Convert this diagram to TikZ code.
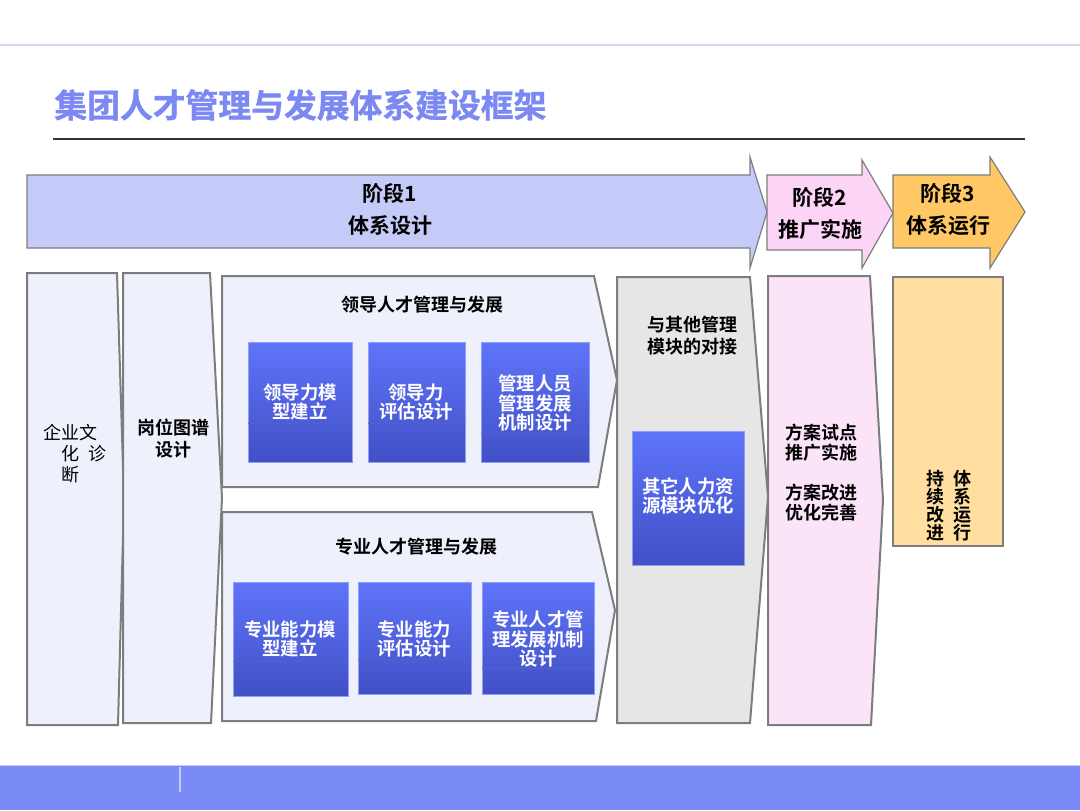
\documentclass[tikz,border=0pt]{standalone}
\usepackage{fontspec}
\setmainfont{Noto Sans CJK SC}[BoldFont={Noto Sans CJK SC Bold}]
\newfontfamily\heavytitle{Noto Sans CJK SC Bold}[FakeBold=1.2]
\definecolor{titlecol}{RGB}{125,137,242}
\definecolor{toplinecol}{RGB}{214,214,245}
\definecolor{stageA}{RGB}{197,203,248}
\definecolor{stageB}{RGB}{252,212,245}
\definecolor{stageC}{RGB}{255,200,100}
\definecolor{paleblue}{RGB}{238,240,252}
\definecolor{palegray}{RGB}{230,230,230}
\definecolor{palepink}{RGB}{252,228,248}
\definecolor{paleorange}{RGB}{255,222,160}
\definecolor{edgegray}{RGB}{125,125,125}
\definecolor{bluetop}{RGB}{94,116,250}
\definecolor{bluebot}{RGB}{66,80,198}
\definecolor{bluesep}{RGB}{84,96,196}
\definecolor{footercol}{RGB}{122,138,247}
\definecolor{footerline}{RGB}{196,204,252}
\begin{document}
\begin{tikzpicture}[x=0.5pt,y=-0.5pt,
  frame/.style={draw=edgegray, line width=1pt, line join=miter},
  stagearrow/.style={draw=edgegray, line width=0.6pt, line join=miter},
  lbl/.style={font=\bfseries\fontsize{9}{11}\selectfont, align=center, inner sep=0pt},
  wlbl/.style={font=\bfseries\fontsize{9.2}{9.6}\selectfont, align=center, inner sep=0pt, text=white},
  stagelbl/.style={font=\bfseries\fontsize{10.5}{16}\selectfont, align=center, inner sep=0pt},
  bluebox/.style={top color=bluetop, bottom color=bluebot, draw=bluetop!70!white, line width=0.3pt},
  sepline/.style={draw=bluesep, line width=0.5pt}]
\useasboundingbox (0,0) rectangle (1080,810);
% top line and title
\draw[toplinecol, line width=1pt] (0,45) -- (1080,45);
\node[anchor=west, inner sep=0pt, text=titlecol, font=\heavytitle\fontsize{16.4}{18}\selectfont] (title) at (54,105) {集团人才管理与发展体系建设框架};
\draw[black!80, line width=1pt] (53,139) -- (1025,139);
% stage arrows
\draw[stagearrow, fill=stageA] (27,175) -- (750,175) -- (750,157) -- (767,212) -- (750,268) -- (750,248) -- (27,248) -- cycle;
\draw[stagearrow, fill=stageB] (767,175) -- (862,175) -- (862,160) -- (893,213) -- (862,268) -- (862,250) -- (767,250) -- cycle;
\draw[stagearrow, fill=stageC] (893,175) -- (990,175) -- (990,157) -- (1025,212) -- (990,268) -- (990,248) -- (893,248) -- cycle;
\node[stagelbl] (s1) at (390,209) {阶段1\\体系设计};
\node[stagelbl] (s2) at (820,214) {阶段2\\推广实施};
\node[stagelbl] (s3) at (948,209) {阶段3\\体系运行};
% lower boxes
\draw[frame, fill=paleblue] (27,273) -- (117,273) -- (124,499) -- (118,725) -- (27,725) -- cycle;
\draw[frame, fill=paleblue] (123,273) -- (210,273) -- (222,498) -- (211,723) -- (123,723) -- cycle;
\draw[frame, fill=paleblue] (222,276) -- (594,276) -- (617,380) -- (598,487) -- (222,487) -- cycle;
\draw[frame, fill=paleblue] (222,512) -- (592,512) -- (615,610) -- (596,721) -- (222,721) -- cycle;
\draw[frame, fill=palegray] (617,277) -- (750,277) -- (768,497) -- (750,723) -- (617,723) -- cycle;
\draw[frame, fill=palepink] (768,276) -- (870,276) -- (883,500) -- (871,725) -- (768,725) -- cycle;
\draw[frame, fill=paleorange] (893,277) rectangle (1003,546);
% texts of the columns
\node[font=\fontsize{9}{10.5}\selectfont, align=left, inner sep=0pt] (culture) at (74.5,454) {企业文\\\hspace*{1em}化\hspace{0.5em}诊\\\hspace*{1em}断};
\node[lbl] (posmap) at (173,439) {岗位图谱\\设计};
\node[lbl] (leadtitle) at (422,305) {领导人才管理与发展};
\node[lbl] (protitle) at (416,547) {专业人才管理与发展};
\node[lbl] (link) at (692,336) {与其他管理\\模块的对接};
\node[lbl, font=\bfseries\fontsize{9}{10}\selectfont] (pilot) at (821,473) {方案试点\\推广实施\\[10pt]方案改进\\优化完善};
\node[lbl, font=\bfseries\fontsize{9}{9}\selectfont] (run1) at (935,506) {持\\续\\改\\进};
\node[lbl, font=\bfseries\fontsize{9}{9}\selectfont] (run2) at (962,506) {体\\系\\运\\行};
% blue boxes, leadership
\shade[bluebox] (248,342) rectangle (352,462);
\draw[sepline] (248,423) -- (352,423);
\node[wlbl] (c1) at (300,402) {领导力模\\型建立};
\shade[bluebox] (368,342) rectangle (465,462);
\draw[sepline] (368,423) -- (465,423);
\node[wlbl] (c2) at (416,402) {领导力\\评估设计};
\shade[bluebox] (481,342) rectangle (589,462);
\draw[sepline] (481,433) -- (589,433);
\node[wlbl] (c3) at (535,403) {管理人员\\管理发展\\机制设计};
% blue boxes, professional
\shade[bluebox] (233,582) rectangle (348,696);
\draw[sepline] (233,661) -- (348,661);
\node[wlbl] (d1) at (290,639) {专业能力模\\型建立};
\shade[bluebox] (358,582) rectangle (471,694);
\draw[sepline] (358,659) -- (471,659);
\node[wlbl] (d2) at (414,639) {专业能力\\评估设计};
\shade[bluebox] (482,582) rectangle (594,694);
\draw[sepline] (482,668) -- (594,668);
\node[wlbl] (d3) at (538,639) {专业人才管\\理发展机制\\设计};
% blue box, other modules
\shade[bluebox] (632,431) rectangle (744,565);
\node[wlbl] (e1) at (688,496) {其它人力资\\源模块优化};
% footer
\fill[footercol] (0,765) rectangle (1080,810);
\draw[footerline, line width=0.6pt] (0,765.5) -- (1080,765.5);
\draw[footerline, line width=0.6pt] (180,767) -- (180,792);
\end{tikzpicture}
\end{document}
